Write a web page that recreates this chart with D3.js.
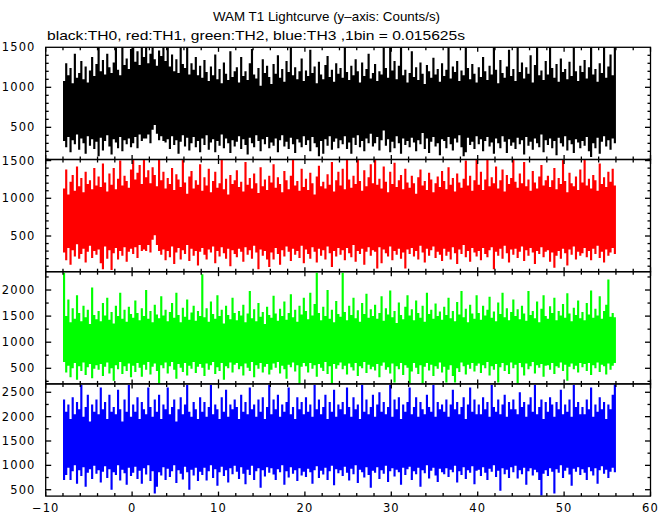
<!DOCTYPE html>
<html><head><meta charset="utf-8">
<script src="https://cdn.jsdelivr.net/npm/d3@7"></script>
<style>body{margin:0;background:#fff}svg{display:block}</style>
</head><body><svg id="c" width="672" height="515"></svg>
<script>
const titleText = "WAM T1 Lightcurve (y\u2013axis: Counts/s)";
const subtitleText = "black:TH0, red:TH1, green:TH2, blue:TH3 ,1bin = 0.015625s";

// time axis of the envelope samples (s)
const tStart = -8, tStep = 0.25, tEnd = 56;
const xDomain = [-10, 60];
const xMajorTicks = [-10, 0, 10, 20, 30, 40, 50, 60];
const xMinorStep = 2;

// y-axis ranges and ticks per panel (Counts/s)
const yDomain0 = [98, 1500],  yTicks0 = [500, 1000, 1500];
const yDomain1 = [27, 1514],  yTicks1 = [500, 1000, 1500];
const yDomain2 = [201, 2351], yTicks2 = [500, 1000, 1500, 2000];
const yDomain3 = [369, 2672], yTicks3 = [500, 1000, 1500, 2000, 2500];
const yMinorSteps = [100, 100, 250, 250];

// TH0 (black) upper / lower envelope
const th0Hi = [
1080,1300,1150,1240,1050,1420,1120,1180,1330,1100,1260,1060,1210,1380,1140,1290,
1500,1200,1340,1160,1420,1250,1180,1310,1490,1220,1150,1500,1280,1360,1230,1480,
1500,1320,1450,1280,1500,1380,1500,1300,1420,1500,1350,1270,1460,1390,1500,1330,
1500,1260,1410,1200,1350,1180,1500,1290,1240,1500,1160,1300,1220,1380,1150,1270,
1120,1340,1190,1080,1260,1150,1410,1100,1230,1050,1310,1170,1090,1450,1130,1200,
1250,1060,1380,1140,1200,1090,1300,1480,1160,1110,1240,1020,1350,1180,1270,1130,
1040,1290,1170,1400,1120,1230,1070,1330,1190,1500,1150,1250,1100,1200,1360,1080,
1210,1140,1470,1180,1260,1050,1320,1160,1100,1280,1390,1130,1220,1070,1300,1170,
1240,1120,1500,1190,1090,1270,1150,1350,1200,1060,1310,1140,1230,1420,1110,1180,
1290,1080,1200,1160,1500,1240,1120,1500,1210,1330,1100,1270,1500,1150,1220,1060,
1180,1450,1130,1250,1090,1310,1170,1040,1280,1200,1120,1370,1160,1230,1070,1300,
1140,1220,1500,1110,1260,1190,1330,1080,1210,1150,1500,1240,1100,1290,1170,1060,
1250,1130,1380,1200,1090,1270,1160,1500,1220,1050,1340,1180,1120,1260,1470,1140,
1230,1080,1500,1190,1310,1110,1250,1170,1400,1060,1280,1500,1150,1210,1090,1330,
1160,1500,1240,1120,1290,1070,1360,1190,1230,1100,1320,1140,1500,1200,1080,1270,
1190,1340,1110,1250,1500,1160,1230,1070,1300,1180,1500,1120,1260,1410,1150,1500];
const th0Lo = [
330,250,380,190,340,290,410,220,360,300,170,390,270,350,230,320,
140,370,210,330,400,260,160,350,310,240,380,200,340,290,360,250,
300,380,240,410,330,360,360,410,300,470,530,420,340,390,330,310,
350,230,390,280,340,170,320,400,260,370,210,300,380,250,330,190,
360,280,400,220,310,350,190,330,270,410,240,360,300,180,340,260,
320,390,230,350,280,160,370,300,250,400,330,200,350,290,380,240,
310,270,360,190,340,400,260,320,230,370,290,180,350,310,250,390,
280,340,200,380,300,250,140,330,170,350,270,390,220,320,360,240,
340,290,390,230,310,170,370,280,400,250,330,200,360,300,420,260,
300,380,210,340,460,270,350,190,320,240,390,300,170,360,280,330,
250,370,310,200,340,290,430,230,360,180,320,380,260,300,150,350,
330,240,380,290,210,360,310,400,250,140,190,370,280,320,230,390,
290,350,200,330,380,260,310,170,360,300,240,390,320,180,350,270,
310,230,370,290,340,160,380,270,320,220,360,300,250,410,190,340,
280,360,240,330,150,370,300,260,390,210,340,290,180,350,310,240,
330,270,380,200,130,300,240,370,170,320,390,260,340,220,360,300];

// TH1 (red)
const th1Hi = [
1130,1380,1050,1220,1310,1100,1420,1160,1270,1080,1350,1190,1240,1120,1400,1170,
1290,1150,1460,1210,1090,1330,1180,1400,1120,1260,1500,1170,1300,1230,1140,1380,
1520,1250,1340,1440,1190,1520,1280,1370,1200,1410,1310,1160,1520,1240,1350,1130,
1270,1190,1400,1110,1320,1250,1150,1520,1210,1060,1290,1360,1130,1240,1180,1450,
1100,1280,1170,1390,1080,1230,1350,1140,1200,1520,1120,1260,1050,1310,1190,1240,
1370,1150,1220,1090,1480,1180,1270,1130,1330,1200,1070,1410,1160,1250,1110,1300,
1210,1450,1140,1280,1190,1080,1360,1240,1120,1300,1520,1170,1230,1100,1390,1150,
1260,1110,1340,1200,1050,1290,1430,1160,1220,1130,1320,1180,1480,1090,1240,1350,
1170,1390,1120,1520,1250,1140,1300,1190,1510,1230,1100,1370,1160,1280,1450,1200,
1520,1180,1260,1130,1420,1220,1080,1350,1190,1470,1150,1240,1310,1120,1390,1210,
1140,1300,1200,1060,1280,1380,1170,1230,1110,1340,1250,1080,1200,1290,1150,1360,
1230,1120,1410,1180,1270,1090,1330,1210,1140,1260,1500,1170,1300,1100,1240,1520,
1180,1350,1110,1250,1520,1160,1280,1200,1420,1130,1240,1380,1090,1310,1190,1270,
1520,1220,1140,1330,1200,1480,1160,1250,1100,1360,1210,1130,1290,1440,1170,1240,
1300,1150,1240,1400,1120,1270,1190,1520,1230,1080,1340,1200,1160,1290,1110,1380,
1210,1520,1170,1260,1130,1310,1240,1100,1460,1190,1280,1150,1350,1220,1390,1170];
const th1Lo = [
280,180,340,120,310,230,390,200,260,330,150,290,370,210,300,250,
320,140,60,360,200,310,50,270,340,190,300,240,350,160,290,330,
260,350,210,380,300,320,300,380,280,450,510,380,300,250,320,180,
300,220,360,130,280,340,190,310,260,380,170,330,240,300,110,290,
340,250,190,320,280,360,140,300,230,350,270,200,330,100,310,260,
220,330,290,160,350,250,310,200,370,280,60,320,240,300,190,90,
280,190,340,260,120,310,230,360,290,170,330,250,300,210,370,140,
320,260,200,350,290,150,330,240,310,190,360,270,90,300,230,340,
250,310,180,340,270,220,380,160,300,260,330,120,290,350,240,310,
290,70,350,140,320,270,230,360,180,300,250,330,200,280,70,320,
260,340,230,300,190,370,280,150,330,240,310,360,210,290,250,170,
330,240,290,190,350,270,130,320,260,380,220,300,160,340,280,230,
300,180,340,260,220,310,350,60,290,240,330,200,370,270,150,320,
250,330,210,290,360,170,310,240,340,280,130,300,260,350,220,290,
310,160,280,80,240,300,200,330,270,110,320,250,360,190,290,240,
270,340,220,300,180,330,260,370,210,290,150,320,240,280,340,260];

// TH2 (green)
const th2Hi = [
2330,1500,1820,1380,1650,1450,1900,1560,1400,1700,1480,1620,1350,2050,1520,1440,
1600,1400,1750,1510,1850,1430,1580,1360,1700,1500,1950,1450,1620,1390,1680,1540,
1470,1800,1560,1420,1650,1500,2000,1450,1600,1380,1720,1530,1460,1880,1510,1620,
1400,1580,1750,1470,1950,1520,1380,1660,1490,1820,1430,1570,1700,1410,1600,1500,
2300,1480,1650,1390,1780,1540,1450,1900,1500,1620,1360,1700,1520,1440,1850,1560,
1420,1600,1510,1720,1380,1550,1980,1460,1630,1400,1750,1490,1580,1350,1680,1520,
1470,1890,1550,1410,1640,1500,1780,1430,1560,1920,1480,1620,1390,1700,1530,1850,
1600,1440,1950,1510,1730,2330,1560,1420,1680,1500,2000,1450,1620,1380,1790,1540,
1490,2330,1580,1420,1700,1520,1850,1460,1610,1390,1750,1540,1930,1470,1630,1500,
1720,1450,1560,1880,1410,1650,1530,1990,1480,1600,1370,1760,1520,1440,1680,1900,
1510,1630,1420,1800,1560,1470,1700,1390,1950,1540,1620,1450,1740,1500,1590,1430,
1680,1520,1850,1460,1600,1400,1770,1530,1980,1480,1640,1380,1720,1550,1450,1900,
1560,1430,1700,1510,1620,1870,1470,1590,1400,1760,1540,1950,1480,1650,1420,1580,
1820,1500,1630,1440,1700,1550,1410,1980,1520,1600,1460,1780,1380,1640,1900,1500,
1450,1690,1560,1850,1420,1600,1510,1730,1470,1940,1550,1400,1660,1520,1800,1460,
1580,1420,1750,1530,1990,1470,1640,1510,1880,1450,1600,1720,2200,1490,1560,1480];
const th2Lo = [
620,420,550,330,500,600,280,540,450,610,370,520,580,310,490,560,
470,580,350,530,610,400,500,260,560,480,620,390,540,450,590,330,
550,430,600,510,340,570,470,620,380,530,590,450,220,560,500,610,
400,540,620,470,300,580,510,430,600,360,550,490,620,410,530,580,
510,350,590,470,560,620,390,520,450,600,280,540,500,610,420,570,
600,480,540,360,590,510,450,620,330,560,490,600,420,530,580,380,
470,590,510,620,400,550,480,300,570,520,610,440,560,210,530,600,
540,420,600,490,560,340,580,510,450,620,390,540,200,580,490,560,
610,480,550,380,590,520,460,600,350,540,500,620,410,570,480,530,
460,580,330,550,610,470,520,400,590,230,540,480,600,370,560,510,
220,440,600,510,390,560,220,530,600,460,570,350,540,490,610,420,
530,230,470,560,350,230,500,430,610,540,380,570,490,600,440,550,
590,410,560,500,620,360,540,470,580,230,520,600,450,560,390,610,
500,570,220,600,520,360,590,480,540,620,400,560,510,580,340,550,
560,470,600,390,540,510,610,450,570,260,530,590,480,550,420,600,
520,580,450,600,370,560,500,610,430,570,540,380,590,470,550,600];

// TH3 (blue)
const th3Hi = [
2350,2100,2250,1950,2400,2050,2300,2150,2650,2000,2200,2450,1900,2250,2100,2350,
2050,2600,2150,2300,1950,2450,2100,2200,2050,2550,2150,1900,2350,2100,2650,2000,
2250,2100,2400,1950,2300,2150,2050,2600,2200,2000,2350,2100,2450,1950,2250,2150,
2600,2050,2200,2350,1900,2150,2400,2050,2250,2650,2100,2000,2300,2150,1950,2400,
2100,2300,2000,2200,2650,2050,2250,2150,1950,2400,2100,2550,2000,2250,2150,2350,
2200,1950,2450,2100,2300,2050,2600,2150,2250,2000,2350,2100,2400,1950,2200,2650,
2050,2350,2150,2450,2000,2250,2100,2300,2600,2050,2200,1950,2400,2150,2300,2050,
2400,2100,2250,2000,2650,2150,2350,2050,2200,2450,1950,2300,2100,2550,2000,2250,
2150,2300,2050,2600,2200,2000,2400,2150,2250,1950,2650,2100,2350,2050,2200,2450,
2000,2250,2500,2100,2300,2050,2200,2650,2000,2350,2150,2400,1950,2250,2100,2300,
2600,2050,2200,2400,2000,2300,2150,2050,2450,2200,2100,2650,2000,2300,2150,2250,
2100,2350,2000,2250,2550,2150,2300,2050,2200,2400,1950,2250,2600,2100,2350,2050,
2250,2050,2400,2150,2300,2000,2650,2200,2100,2350,2050,2250,2450,2000,2300,2150,
2350,2150,2050,2500,2200,2300,2000,2250,2400,2100,2650,2050,2200,2350,1950,2300,
2100,2400,2250,2000,2300,2150,2550,2050,2250,2100,2350,2000,2650,2200,2300,2050,
2200,2050,2350,2150,2600,2000,2250,2100,2400,2150,2300,1950,2250,2150,2450,2660];
const th3Lo = [
700,800,950,700,880,1000,620,900,780,960,560,850,920,720,990,830,
900,650,870,980,740,920,500,860,800,1000,690,910,840,600,950,780,
850,970,720,890,620,940,810,1000,680,880,420,560,860,790,960,700,
930,760,880,1000,640,900,830,710,970,860,500,910,790,950,680,870,
800,950,690,880,1000,740,920,580,860,970,780,900,650,940,820,990,
870,720,960,830,610,910,800,990,700,880,940,540,900,770,960,850,
940,810,700,920,860,1000,600,880,750,960,830,900,680,940,790,870,
760,930,860,620,900,980,740,890,810,950,700,880,990,590,920,840,
900,780,970,850,690,930,820,1000,640,910,860,750,960,800,540,890,
850,960,720,900,830,990,660,880,940,770,910,860,600,950,800,920,
970,700,880,820,950,560,900,840,1000,730,890,950,790,660,930,860,
820,940,760,910,860,990,650,880,800,960,720,900,850,980,610,890,
910,780,960,850,700,930,870,1000,760,890,480,940,820,910,740,960,
860,990,730,900,820,950,600,880,940,790,910,860,700,380,830,900,
780,940,870,420,920,850,1000,740,890,950,810,580,930,870,960,800,
920,850,700,960,880,790,940,620,900,980,830,910,740,870,950,860];

const seriesColors = ["#000000", "#ff0000", "#00ff00", "#0000ff"];

// ---------- layout ----------
const svg = d3.select("#c");
const L = 45.7, R = 650.5;
const panelTops = [47.3, 159.5, 271.7, 383.9];
const panelH = 112.2;

const x = d3.scaleLinear().domain(xDomain).range([L, R]);

const panels = [
  {hi: th0Hi, lo: th0Lo, dom: yDomain0, ticks: yTicks0},
  {hi: th1Hi, lo: th1Lo, dom: yDomain1, ticks: yTicks1},
  {hi: th2Hi, lo: th2Lo, dom: yDomain2, ticks: yTicks2},
  {hi: th3Hi, lo: th3Lo, dom: yDomain3, ticks: yTicks3}
];

const defs = svg.append("defs");
const xMinor = d3.range(xDomain[0], xDomain[1] + 0.001, xMinorStep);

panels.forEach((p, k) => {
  const top = panelTops[k], bot = top + panelH;
  const y = d3.scaleLinear().domain(p.dom).range([bot, top]);
  defs.append("clipPath").attr("id", "clip" + k)
    .append("rect").attr("x", L).attr("y", top).attr("width", R - L).attr("height", panelH);

  const n = p.hi.length;
  const idx = d3.range(n + 1);
  const area = d3.area()
    .x(i => x(Math.min(tStart + i * tStep, tEnd)))
    .y0(i => y(p.lo[Math.min(i, n - 1)]))
    .y1(i => y(p.hi[Math.min(i, n - 1)]))
    .curve(d3.curveStepAfter);
  svg.append("path")
    .attr("clip-path", "url(#clip" + k + ")")
    .attr("d", area(idx))
    .attr("fill", seriesColors[k])
    .attr("stroke", "none");

  const g = svg.append("g").attr("stroke", "#000").attr("stroke-width", 1.3).attr("fill", "none");
  // y ticks (inward, both sides)
  const minor = d3.range(Math.ceil(p.dom[0] / yMinorSteps[k]) * yMinorSteps[k], p.dom[1], yMinorSteps[k]);
  minor.forEach(v => {
    const isMajor = p.ticks.includes(v);
    const len = isMajor ? 5.5 : 3;
    const yy = y(v);
    g.append("line").attr("x1", L).attr("x2", L + len).attr("y1", yy).attr("y2", yy);
    g.append("line").attr("x1", R).attr("x2", R - len).attr("y1", yy).attr("y2", yy);
  });
  // x ticks (inward, top and bottom)
  xMinor.forEach(v => {
    const isMajor = xMajorTicks.includes(Math.round(v));
    const len = isMajor ? 4.5 : 3;
    const xx = x(v);
    g.append("line").attr("x1", xx).attr("x2", xx).attr("y1", bot).attr("y2", bot - len);
    g.append("line").attr("x1", xx).attr("x2", xx).attr("y1", top).attr("y2", top + len);
  });
  g.append("rect").attr("x", L).attr("y", top).attr("width", R - L).attr("height", panelH);

  // y tick labels
  svg.append("g").selectAll("text").data(p.ticks).join("text")
    .attr("x", 35.5).attr("y", v => y(v)).attr("dy", "0.36em")
    .attr("text-anchor", "end")
    .attr("font-family", "DejaVu Sans").attr("font-size", 11.5)
    .attr("letter-spacing", 1.1)
    .text(v => v);
});

// x tick labels
const fmtX = v => v < 0 ? "\u2212" + Math.abs(v) : String(v);
svg.append("g").selectAll("text").data(xMajorTicks).join("text")
  .attr("x", v => x(v)).attr("y", 512)
  .attr("text-anchor", "middle")
  .attr("font-family", "DejaVu Sans").attr("font-size", 11.5)
  .attr("letter-spacing", 1.1)
  .text(fmtX);

svg.append("text").attr("x", 213).attr("y", 21)
  .attr("font-family", "Liberation Sans").attr("font-size", 13.5)
  .attr("textLength", 227).attr("lengthAdjust", "spacingAndGlyphs")
  .text(titleText);
svg.append("text").attr("x", 47).attr("y", 40)
  .attr("font-family", "Liberation Sans").attr("font-size", 13.5)
  .attr("textLength", 418).attr("lengthAdjust", "spacingAndGlyphs")
  .text(subtitleText);
</script></body></html>
